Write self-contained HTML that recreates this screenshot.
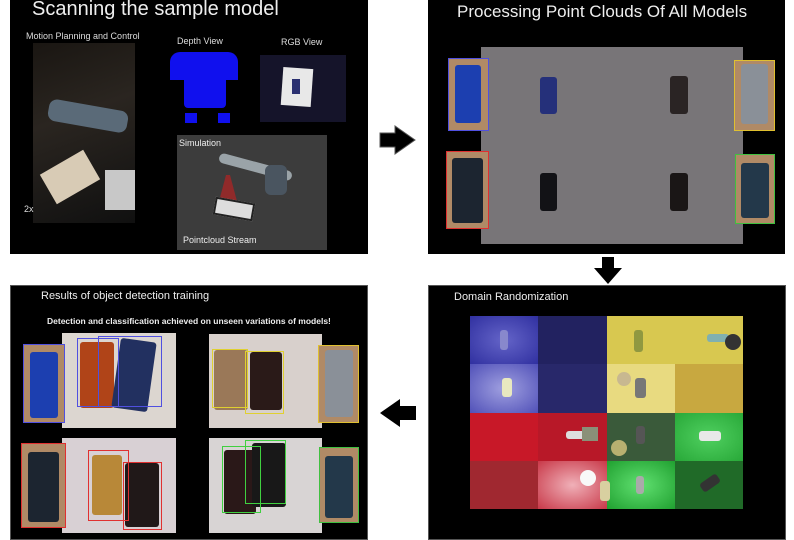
<!DOCTYPE html>
<html><head><meta charset="utf-8"><style>
body{margin:0;width:794px;height:540px;background:#fff;position:relative;overflow:hidden;font-family:"Liberation Sans",sans-serif}
.a{position:absolute;box-sizing:border-box}
.t{position:absolute;color:#fff;white-space:nowrap}
.ph{position:absolute;border-radius:3px}
.wood{background:#b08a66}
</style></head><body>

<!-- Panel 1 -->
<div class="a" style="left:10px;top:0;width:358px;height:254px;background:#000"></div>
<div class="t" style="left:32px;top:-2px;font-size:20px;color:#eee">Scanning the sample model</div>
<div class="t" style="left:26px;top:31px;font-size:9px;color:#ddd">Motion Planning and Control</div>
<div class="a" style="left:33px;top:43px;width:102px;height:180px;background:linear-gradient(160deg,#1a1612 0%,#2a2520 40%,#101010 100%)"></div>
<div class="a" style="left:48px;top:105px;width:80px;height:22px;background:#5a6a78;transform:rotate(10deg);border-radius:8px"></div>
<div class="a" style="left:45px;top:160px;width:50px;height:34px;background:#d8cbb5;transform:rotate(-30deg)"></div>
<div class="a" style="left:105px;top:170px;width:30px;height:40px;background:#c8c8c8"></div>
<div class="t" style="left:24px;top:204px;font-size:9px;color:#ddd">2x</div>
<div class="t" style="left:177px;top:36px;font-size:9px;color:#ddd">Depth View</div>
<div class="a" style="left:170px;top:52px;width:68px;height:28px;background:#1010ee;border-radius:10px 10px 0 0"></div>
<div class="a" style="left:184px;top:78px;width:42px;height:30px;background:#1010ee;border-radius:0 0 4px 4px"></div>
<div class="a" style="left:185px;top:113px;width:12px;height:10px;background:#1010ee"></div>
<div class="a" style="left:218px;top:113px;width:12px;height:10px;background:#1010ee"></div>
<div class="t" style="left:281px;top:37px;font-size:9px;color:#ddd">RGB View</div>
<div class="a" style="left:260px;top:55px;width:86px;height:67px;background:#15142a"></div>
<div class="a" style="left:282px;top:68px;width:30px;height:38px;background:#e8e8e8;transform:rotate(4deg)"></div>
<div class="a" style="left:292px;top:79px;width:8px;height:15px;background:#2a3070"></div>
<div class="a" style="left:177px;top:135px;width:150px;height:115px;background:#3c3c3c"></div>
<div class="t" style="left:179px;top:138px;font-size:9px;color:#eee">Simulation</div>
<div class="a" style="left:218px;top:162px;width:75px;height:10px;background:#9aa3a8;border-radius:5px;transform:rotate(15deg)"></div>
<div class="a" style="left:265px;top:165px;width:22px;height:30px;background:#4a5560;border-radius:6px"></div>
<div class="a" style="left:218px;top:175px;width:20px;height:30px;background:rgba(200,30,30,.6);clip-path:polygon(40% 0,60% 0,100% 100%,0 100%)"></div>
<div class="a" style="left:214px;top:200px;width:40px;height:18px;background:#ddd;border:2px solid #222;transform:rotate(10deg)"></div>
<div class="t" style="left:183px;top:235px;font-size:9px;color:#eee">Pointcloud Stream</div>

<!-- right arrow -->
<svg class="a" style="left:378px;top:124px" width="40" height="32"><polygon points="2,9 17,9 17,2 37,16 17,30 17,23 2,23" fill="#000" stroke="#555" stroke-width="1"/></svg>

<!-- Panel 2 -->
<div class="a" style="left:428px;top:0;width:357px;height:254px;background:#000"></div>
<div class="t" style="left:457px;top:2px;font-size:17px;color:#eee">Processing Point Clouds Of All Models</div>
<div class="a" style="left:481px;top:47px;width:262px;height:197px;background:#787578"></div>
<div class="a wood" style="left:448px;top:58px;width:41px;height:73px;border:1px solid #5050e0"></div>
<div class="ph" style="left:455px;top:65px;width:26px;height:58px;background:#1c3fb0"></div>
<div class="a wood" style="left:446px;top:151px;width:43px;height:78px;border:1px solid #e03030"></div>
<div class="ph" style="left:452px;top:158px;width:31px;height:65px;background:#1c2530"></div>
<div class="a wood" style="left:734px;top:60px;width:41px;height:71px;border:1px solid #e0c030"></div>
<div class="ph" style="left:741px;top:64px;width:27px;height:60px;background:#8a9098"></div>
<div class="a wood" style="left:735px;top:154px;width:40px;height:70px;border:1px solid #40c040"></div>
<div class="ph" style="left:741px;top:163px;width:28px;height:55px;background:#23384a"></div>
<div class="ph" style="left:540px;top:77px;width:17px;height:37px;background:#25307a"></div>
<div class="ph" style="left:670px;top:76px;width:18px;height:38px;background:#2a2424"></div>
<div class="ph" style="left:540px;top:173px;width:17px;height:38px;background:#121216"></div>
<div class="ph" style="left:670px;top:173px;width:18px;height:38px;background:#1a1616"></div>

<!-- down arrow -->
<svg class="a" style="left:592px;top:256px" width="32" height="30"><polygon points="10,1 22,1 22,12 30,12 16,28 2,12 10,12" fill="#000"/></svg>

<!-- Panel 3 -->
<div class="a" style="left:428px;top:285px;width:358px;height:255px;background:#000;border:1px solid #555"></div>
<div class="t" style="left:454px;top:291px;font-size:11px;color:#eee">Domain Randomization</div>
<div class="a" style="left:470px;top:316px;width:273px;height:193px;display:grid;grid-template-columns:repeat(4,1fr);grid-template-rows:repeat(4,1fr)">
<div style="background:radial-gradient(#6464c8,#3030a0)"></div><div style="background:#222260"></div><div style="background:#d8c850"></div><div style="background:#d8c850"></div>
<div style="background:radial-gradient(#a0a0e0,#5050b8)"></div><div style="background:#28286a"></div><div style="background:#e8da80"></div><div style="background:#c8a840"></div>
<div style="background:#c81828"></div><div style="background:#b81828"></div><div style="background:#3a5a3a"></div><div style="background:radial-gradient(#50d060,#28a838)"></div>
<div style="background:#a02830"></div><div style="background:radial-gradient(#f0b0b8,#c83848)"></div><div style="background:radial-gradient(#60e070,#20a030)"></div><div style="background:#206a28"></div>
</div>
<div class="ph" style="left:500px;top:330px;width:8px;height:20px;background:#8888cc"></div>
<div class="ph" style="left:502px;top:378px;width:10px;height:19px;background:#e8e8c0"></div>
<div class="ph" style="left:634px;top:330px;width:9px;height:22px;background:#909840"></div>
<div class="ph" style="left:707px;top:334px;width:22px;height:8px;background:#80b0b0"></div>
<div class="a" style="left:725px;top:334px;width:16px;height:16px;border-radius:50%;background:#333"></div>
<div class="a" style="left:617px;top:372px;width:14px;height:14px;border-radius:50%;background:#c8b890"></div>
<div class="ph" style="left:635px;top:378px;width:11px;height:20px;background:#777"></div>
<div class="ph" style="left:566px;top:431px;width:20px;height:8px;background:#ddd"></div>
<div class="a" style="left:582px;top:427px;width:16px;height:14px;background:#8a9078"></div>
<div class="ph" style="left:636px;top:426px;width:9px;height:18px;background:#555"></div>
<div class="a" style="left:611px;top:440px;width:16px;height:16px;border-radius:50%;background:#b8b070"></div>
<div class="ph" style="left:699px;top:431px;width:22px;height:10px;background:#e8e8e8"></div>
<div class="ph" style="left:600px;top:481px;width:10px;height:20px;background:#d8d0a0"></div>
<div class="a" style="left:580px;top:470px;width:16px;height:16px;border-radius:50%;background:#f8f8f8"></div>
<div class="ph" style="left:636px;top:476px;width:8px;height:18px;background:#aaa"></div>
<div class="ph" style="left:700px;top:478px;width:20px;height:10px;background:#333;transform:rotate(-35deg)"></div>

<!-- left arrow -->
<svg class="a" style="left:378px;top:398px" width="40" height="30"><polygon points="38,8 22,8 22,1 2,15 22,29 22,22 38,22" fill="#000"/></svg>

<!-- Panel 4 -->
<div class="a" style="left:10px;top:285px;width:358px;height:255px;background:#000;border:1px solid #555"></div>
<div class="t" style="left:41px;top:290px;font-size:11px;color:#eee">Results of object detection training</div>
<div class="t" style="left:47px;top:316px;font-size:8.5px;font-weight:bold;color:#eee">Detection and classification achieved on unseen variations of models!</div>
<div class="a" style="left:62px;top:333px;width:114px;height:95px;background:#dcd6d0"></div>
<div class="ph" style="left:80px;top:342px;width:34px;height:66px;background:#b04418"></div>
<div class="ph" style="left:116px;top:340px;width:36px;height:70px;background:#223060;transform:rotate(8deg)"></div>
<div class="a" style="left:77px;top:338px;width:42px;height:69px;border:1px solid #5050e0"></div>
<div class="a" style="left:98px;top:336px;width:64px;height:71px;border:1px solid #5050e0"></div>
<div class="a wood" style="left:23px;top:344px;width:42px;height:79px;border:1px solid #5050e0"></div>
<div class="ph" style="left:30px;top:352px;width:28px;height:66px;background:#1c3fb0"></div>

<div class="a" style="left:209px;top:334px;width:113px;height:94px;background:#d8d0cc"></div>
<div class="ph" style="left:214px;top:350px;width:34px;height:60px;background:#9a7858"></div>
<div class="ph" style="left:250px;top:352px;width:32px;height:58px;background:#2a1a18"></div>
<div class="a" style="left:212px;top:349px;width:36px;height:59px;border:1px solid #e0d030"></div>
<div class="a" style="left:245px;top:351px;width:39px;height:63px;border:1px solid #e0d030"></div>
<div class="a wood" style="left:318px;top:345px;width:41px;height:78px;border:1px solid #e0c030"></div>
<div class="ph" style="left:325px;top:350px;width:28px;height:67px;background:#8a9098"></div>

<div class="a" style="left:62px;top:438px;width:114px;height:95px;background:#d8d0d4"></div>
<div class="ph" style="left:92px;top:455px;width:30px;height:60px;background:#b88838"></div>
<div class="ph" style="left:125px;top:463px;width:34px;height:64px;background:#201818"></div>
<div class="a" style="left:88px;top:450px;width:41px;height:71px;border:1px solid #e03030"></div>
<div class="a" style="left:123px;top:462px;width:39px;height:68px;border:1px solid #e03030"></div>
<div class="a wood" style="left:21px;top:443px;width:45px;height:85px;border:1px solid #e03030"></div>
<div class="ph" style="left:28px;top:452px;width:31px;height:70px;background:#1c2530"></div>

<div class="a" style="left:209px;top:438px;width:113px;height:95px;background:#d8d4d4"></div>
<div class="ph" style="left:224px;top:450px;width:32px;height:64px;background:#2a1818"></div>
<div class="ph" style="left:252px;top:443px;width:34px;height:64px;background:#181818"></div>
<div class="a" style="left:222px;top:446px;width:39px;height:67px;border:1px solid #40d040"></div>
<div class="a" style="left:245px;top:440px;width:41px;height:64px;border:1px solid #40d040"></div>
<div class="a wood" style="left:319px;top:447px;width:40px;height:76px;border:1px solid #40c040"></div>
<div class="ph" style="left:325px;top:456px;width:28px;height:62px;background:#23384a"></div>

</body></html>
